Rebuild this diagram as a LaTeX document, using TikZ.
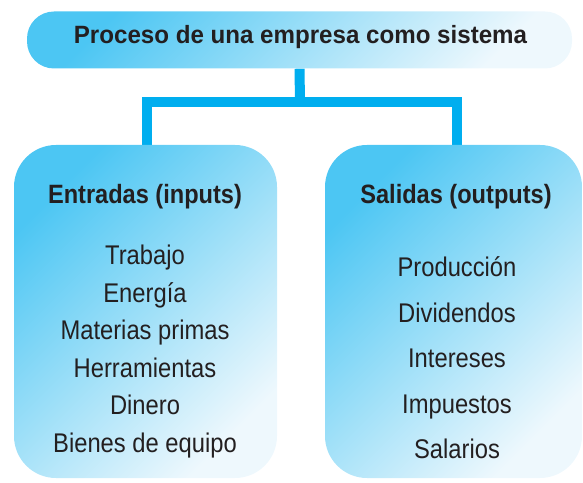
\documentclass[tikz,border=0pt]{standalone}
\usepackage{fontspec}
\setmainfont{Liberation Sans}
\newfontfamily\titlefont[FakeStretch=0.965]{Liberation Sans}
\newfontfamily\headfont[FakeStretch=0.89]{Liberation Sans}
\newfontfamily\itemfont[FakeStretch=0.88]{Liberation Sans}
\usetikzlibrary{calc}
\pgfdeclarelayer{background}
\pgfsetlayers{background,main}
\definecolor{skyA}{HTML}{4CC6F3}
\definecolor{skyB}{HTML}{EEF8FD}
\definecolor{conncol}{HTML}{00AEEF}
\definecolor{ink}{HTML}{231F20}
\begin{document}
\begin{tikzpicture}[x=1pt,y=1pt,
  box/.style={rectangle, shade, top color=skyA, bottom color=skyB, shading angle=45, draw=none, inner sep=0pt},
  conn/.style={draw=conncol, line width=10pt, line join=miter},
  titletxt/.style={anchor=base, text=ink, font={\titlefont\bfseries\fontsize{25}{28}\selectfont}},
  headtxt/.style={anchor=base, text=ink, font={\headfont\bfseries\fontsize{26.5}{28}\selectfont}},
  itemtxt/.style={anchor=base, text=ink, font={\itemfont\fontsize{27}{28}\selectfont}}]
\useasboundingbox (0,0) rectangle (583,482);
% boxes
\node[box, rounded corners=27pt, minimum width=545pt, minimum height=57pt] (top) at (299.5,442) {};
\node[box, rounded corners=42pt, minimum width=263pt, minimum height=333pt] (left) at (145.5,170.5) {};
\node[box, rounded corners=42pt, minimum width=257pt, minimum height=333pt] (right) at (453.5,170.5) {};
% connectors
\coordinate (j) at (300,380);
\coordinate (jl) at (147,380);
\coordinate (jr) at (457,380);
\begin{pgfonlayer}{background}
\draw[conn] (top.south) -- (j);
\draw[conn] (jl |- left.north) -- (jl) -- (jr) -- (jr |- right.north);
\end{pgfonlayer}
% texts
\node[titletxt] (t0) at (300.5,438) {Proceso de una empresa como sistema};
\node[headtxt] (h1) at (145,278.5) {Entradas (inputs)};
\node[itemtxt] (l1) at (145,217) {Trabajo};
\node[itemtxt] (l2) at (145,179.6) {Energía};
\node[itemtxt] (l3) at (145,142.2) {Materias primas};
\node[itemtxt] (l4) at (145,104.8) {Herramientas};
\node[itemtxt] (l5) at (145,67.4) {Dinero};
\node[itemtxt] (l6) at (145,30) {Bienes de equipo};
\node[headtxt] (h2) at (456,278.5) {Salidas (outputs)};
\node[itemtxt] (r1) at (457,205) {Producción};
\node[itemtxt] (r2) at (457,160) {Dividendos};
\node[itemtxt] (r3) at (457,115) {Intereses};
\node[itemtxt] (r4) at (457,69) {Impuestos};
\node[itemtxt] (r5) at (457,24) {Salarios};
\end{tikzpicture}
\end{document}
